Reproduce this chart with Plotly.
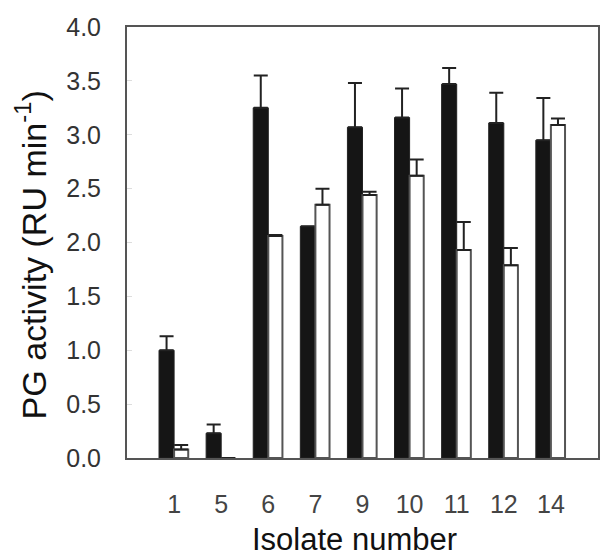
import plotly.graph_objects as go

isolates = ["1", "5", "6", "7", "9", "10", "11", "12", "14"]
black_vals = [1.00, 0.23, 3.25, 2.15, 3.07, 3.16, 3.47, 3.11, 2.95]
black_err = [0.13, 0.08, 0.30, 0.0, 0.41, 0.27, 0.15, 0.28, 0.39]
white_vals = [0.08, 0.0, 2.06, 2.35, 2.44, 2.62, 1.93, 1.79, 3.09]
white_err = [0.04, 0.0, 0.01, 0.15, 0.03, 0.15, 0.26, 0.16, 0.06]

xpos = list(range(len(isolates)))

fig = go.Figure()
fig.add_trace(go.Bar(
    x=xpos, y=black_vals, width=0.32, offset=-0.32,
    marker=dict(color="#151515", line=dict(color="#222222", width=1)),
    error_y=dict(type="data", array=black_err, arrayminus=[0]*len(black_err),
                 symmetric=False, color="#222222", thickness=2, width=7),
    showlegend=False,
))
fig.add_trace(go.Bar(
    x=xpos, y=white_vals, width=0.30, offset=0.0,
    marker=dict(color="white", line=dict(color="#555555", width=2)),
    error_y=dict(type="data", array=white_err, arrayminus=[0]*len(white_err),
                 symmetric=False, color="#222222", thickness=2, width=7),
    showlegend=False,
))

fig.update_layout(
    width=602, height=556,
    margin=dict(l=127, r=2, t=27, b=98),
    plot_bgcolor="white", paper_bgcolor="white",
    font=dict(family="Liberation Sans, Arial, sans-serif"),
    barmode="overlay",
)
fig.update_xaxes(
    range=[-1, 9], tickmode="array", tickvals=xpos, ticktext=isolates,
    showgrid=False, zeroline=False,
    showline=True, linecolor="#555555", linewidth=2, mirror=True,
    ticks="", ticklabelstandoff=23,
    tickfont=dict(size=25, color="#444444"),
)
fig.update_yaxes(
    range=[0, 4], tickmode="array", tickvals=[0, 0.5, 1, 1.5, 2, 2.5, 3, 3.5, 4],
    ticktext=["0.0", "0.5", "1.0", "1.5", "2.0", "2.5", "3.0", "3.5", "4.0"],
    showgrid=False, zeroline=False,
    showline=True, linecolor="#555555", linewidth=2, mirror=True,
    ticks="inside", ticklen=5, tickcolor="#dddddd", ticklabelstandoff=19,
    tickfont=dict(size=25, color="#333333"),
)
fig.add_annotation(
    text="Isolate number", xref="paper", yref="paper",
    x=0.484, y=-0.188, xanchor="center", yanchor="middle", showarrow=False,
    font=dict(size=31, color="#111111"),
)
fig.add_annotation(
    text="PG activity (RU min<sup>-1</sup>)", xref="paper", yref="paper",
    x=-0.203, y=0.471, xanchor="center", yanchor="middle", showarrow=False,
    textangle=-90, font=dict(size=34, color="#111111"),
)

fig.write_html("out.html")
